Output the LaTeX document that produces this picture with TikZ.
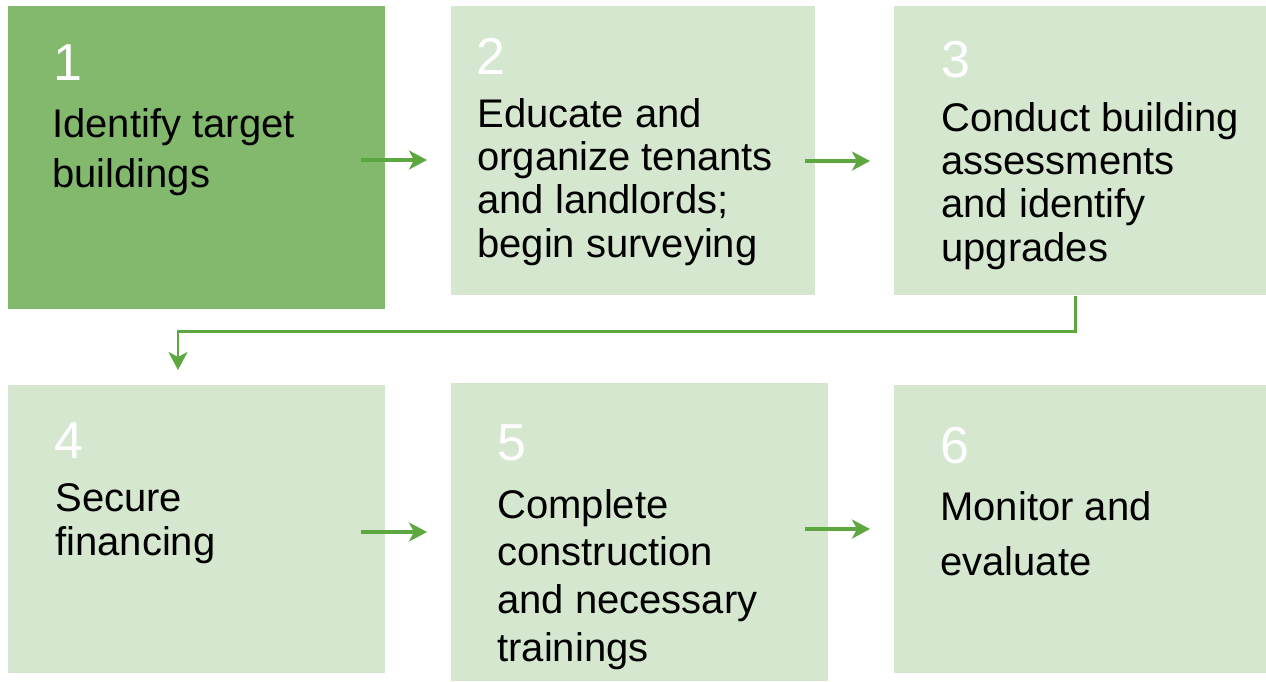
\documentclass[tikz,border=0pt]{standalone}
\usepackage{fontspec}
\setmainfont{Liberation Sans}
\usetikzlibrary{arrows.meta}

\definecolor{stepdark}{HTML}{82B96C}
\definecolor{steplight}{HTML}{D5E7CF}
\definecolor{flowgreen}{HTML}{5DA741}

\tikzset{
  stepbox/.style={anchor=north west, inner sep=0, fill=steplight},
  stepnum/.style={anchor=base west, inner sep=0, text=white, font=\fontsize{29.6}{36}\selectfont},
  steptext/.style={anchor=base west, inner sep=0, align=left, font=\fontsize{22.76}{#1}\selectfont},
  flow/.style={draw=flowgreen, line width=2pt, -{Stealth[length=0.36cm, width=0.38cm, inset=0.1cm]}}
}

\begin{document}
\begin{tikzpicture}[x=0.02cm, y=-0.02cm]
\useasboundingbox (0,0) rectangle (1266,681);
   % Boxes
\node[stepbox, fill=stepdark, minimum width=7.54cm, minimum height=6.06cm] (b1) at (8,6) {};
\node[stepbox, minimum width=7.28cm, minimum height=5.78cm] (b2) at (451,6) {};
\node[stepbox, minimum width=7.44cm, minimum height=5.78cm] (b3) at (894,6) {};
\node[stepbox, minimum width=7.54cm, minimum height=5.76cm] (b4) at (8,385) {};
\node[stepbox, minimum width=7.54cm, minimum height=5.96cm] (b5) at (451,383) {};
\node[stepbox, minimum width=7.44cm, minimum height=5.76cm] (b6) at (894,385) {};

   % Numbers and texts (text nodes sit on the baseline of their last line)
\node[stepnum] (n1) at (53,80) {1};
\node[steptext=28.45pt] (t1) at (52,187) {Identify target\\buildings};
\node[stepnum] (n2) at (476,74) {2};
\node[steptext=24.5pt] (t2) at (477,257) {Educate and\\organize tenants\\and landlords;\\begin surveying};
\node[stepnum] (n3) at (941,77) {3};
\node[steptext=24.5pt] (t3) at (941,261) {Conduct building\\assessments\\and identify\\upgrades};
\node[stepnum] (n4) at (54,458) {4};
\node[steptext=24.75pt] (t4) at (55,555) {Secure\\financing};
\node[stepnum] (n5) at (497,460) {5};
\node[steptext=27.1pt] (t5) at (497,661) {Complete\\construction\\and necessary\\trainings};
\node[stepnum] (n6) at (940,463) {6};
\node[steptext=31.3pt] (t6) at (940,575) {Monitor and\\evaluate};

   % Arrows
\coordinate (a1s) at (361,160);
\coordinate (a1e) at (427,160);
\coordinate (a2s) at (805,161);
\coordinate (a2e) at (870,161);
\coordinate (a4s) at (361,532);
\coordinate (a4e) at (427,532);
\coordinate (a5s) at (805,529);
\coordinate (a5e) at (870,529);
\coordinate (d4) at (178,370);

\draw[flow] (a1s) -- (a1e);
\draw[flow] (a2s) -- (a2e);
\draw[flow] (a4s) -- (a4e);
\draw[flow] (a5s) -- (a5e);
\draw[flow, line width=1.4pt] ([xshift=-0.1cm]b3.south) -- ++(0,36) -| (d4);
\end{tikzpicture}
\end{document}
